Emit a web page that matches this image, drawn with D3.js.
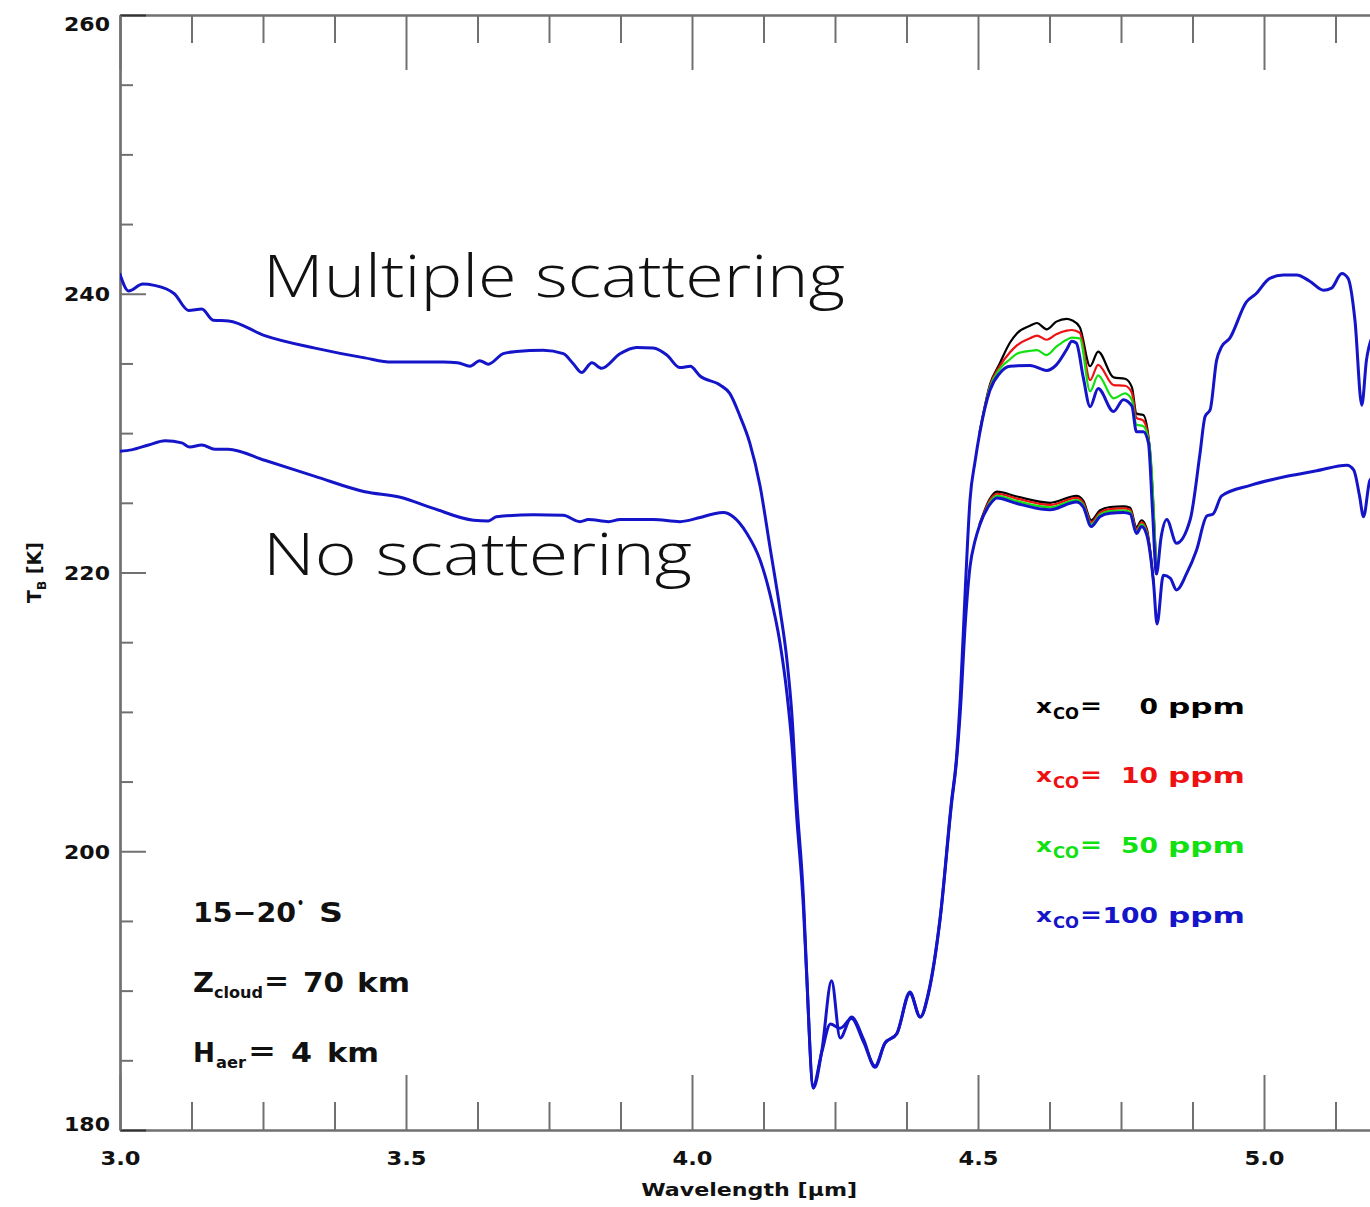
<!DOCTYPE html>
<html>
<head>
<meta charset="utf-8">
<script src="https://cdn.jsdelivr.net/npm/d3@7"></script>
<style>
  html, body { margin: 0; padding: 0; background: #fff; }
  svg { display: block; }
</style>
</head>
<body>
<svg id="chart" width="1370" height="1207"></svg>
<script>
// ---------------- DATA ----------------
// Axis ticks
const xMajorTicks = [3.0, 3.5, 4.0, 4.5, 5.0];
const xMinorTicks = [3.125, 3.25, 3.375, 3.625, 3.75, 3.875, 4.125, 4.25, 4.375, 4.625, 4.75, 4.875, 5.125];
const yMajorTicks = [180, 200, 220, 240, 260];
const yMinorTicks = [185, 190, 195, 205, 210, 215, 225, 230, 235, 245, 250, 255];

// Multiple scattering, x_CO = 100 ppm (full spectrum)
const msWave = [3.000, 3.015, 3.040, 3.060, 3.095, 3.120, 3.143, 3.163, 3.190, 3.253, 3.341, 3.428, 3.475, 3.520,
  3.565, 3.590, 3.612, 3.629, 3.644, 3.670, 3.693, 3.740, 3.775, 3.792, 3.807, 3.825, 3.842, 3.874, 3.903,
  3.932, 3.956, 3.979, 3.997, 4.014, 4.049, 4.066, 4.084, 4.101, 4.119, 4.136, 4.154, 4.166, 4.175, 4.183,
  4.195, 4.200, 4.212, 4.227, 4.244, 4.259, 4.279, 4.300, 4.320, 4.337, 4.358, 4.381, 4.399, 4.413, 4.434,
  4.454, 4.462, 4.469, 4.478, 4.486, 4.495, 4.503, 4.521, 4.538, 4.556, 4.591, 4.620, 4.637, 4.655, 4.664,
  4.672, 4.684, 4.696, 4.710, 4.737, 4.754, 4.769, 4.777, 4.789, 4.798, 4.805, 4.812, 4.820, 4.830, 4.847,
  4.871, 4.888, 4.897, 4.906, 4.917, 4.926, 4.940, 4.969, 4.986, 5.010, 5.034, 5.057, 5.080, 5.104, 5.118,
  5.136, 5.147, 5.159, 5.171, 5.179, 5.190];
const ms100 = [241.4, 240.2, 240.7, 240.6, 240.0, 238.8, 238.9, 238.1, 238.05, 237.0, 236.1, 235.4, 235.1, 235.1,
  235.1, 235.05, 234.8, 235.2, 234.95, 235.7, 235.85, 235.95, 235.7, 235.0, 234.35, 235.05, 234.65, 235.7, 236.15,
  236.1, 235.6, 234.7, 234.8, 234.1, 233.45, 232.85, 231.2, 229.3, 226.2, 221.9, 217.3, 213.7, 209.6, 203.7,
  196.5, 191.7, 183.0, 185.7, 190.7, 186.6, 188.1, 186.5, 184.5, 186.2, 186.9, 189.9, 188.1, 189.8, 195.3,
  203.7, 206.5, 211.0, 219.0, 225.2, 228.0, 230.0, 233.1, 234.3, 234.8, 234.85, 234.5, 234.9, 236.0, 236.6,
  236.45, 234.0, 231.9, 233.2, 231.55, 232.4, 231.95, 230.1, 230.1, 229.3, 224.5, 219.9, 222.5, 223.8, 222.1,
  223.8, 228.5, 231.2, 231.7, 235.2, 236.2, 236.8, 239.4, 240.0, 241.1, 241.35, 241.35, 240.9, 240.25, 240.4,
  241.45, 241.1, 238.1, 232.0, 235.2, 237.0];

// Multiple scattering, lower CO amounts (CO band region only)
const msCoWave = [4.503, 4.521, 4.538, 4.556, 4.568, 4.591, 4.603, 4.620, 4.637, 4.655, 4.664, 4.678, 4.696,
  4.710, 4.737, 4.757, 4.769, 4.777, 4.789, 4.800, 4.812];
const ms0 = [230.1, 233.5, 235.0, 236.5, 237.15, 237.7, 237.9, 237.45, 238.0, 238.2, 238.1, 237.6, 234.8,
  235.85, 234.0, 233.9, 233.3, 231.4, 231.3, 229.0, 219.9];
const ms10 = [230.05, 233.4, 234.8, 235.8, 236.3, 236.8, 237.0, 236.7, 237.1, 237.35, 237.4, 237.2, 233.8,
  234.9, 233.45, 233.4, 232.9, 231.1, 230.9, 229.0, 219.9];
const ms50 = [230.0, 233.3, 234.6, 235.3, 235.7, 235.9, 235.95, 235.6, 236.2, 236.7, 236.85, 236.8, 233.0,
  234.15, 232.5, 232.85, 232.4, 230.6, 230.5, 229.1, 219.9];

// No scattering, x_CO = 100 ppm (full spectrum)
const nsWave = [3.000, 3.020, 3.050, 3.079, 3.108, 3.122, 3.143, 3.166, 3.189, 3.253, 3.341, 3.428, 3.490, 3.548,
  3.618, 3.644, 3.658, 3.723, 3.775, 3.804, 3.819, 3.854, 3.874, 3.932, 3.979, 4.014, 4.037, 4.055, 4.072,
  4.096, 4.119, 4.136, 4.154, 4.166, 4.175, 4.183, 4.195, 4.200, 4.212, 4.227, 4.242, 4.259, 4.279, 4.300,
  4.320, 4.337, 4.358, 4.381, 4.399, 4.413, 4.434, 4.454, 4.462, 4.469, 4.478, 4.486, 4.495, 4.503, 4.521,
  4.533, 4.568, 4.626, 4.672, 4.684, 4.698, 4.713, 4.731, 4.754, 4.766, 4.777, 4.786, 4.795, 4.807, 4.813,
  4.824, 4.836, 4.847, 4.865, 4.882, 4.900, 4.911, 4.926, 4.976, 5.040, 5.092, 5.145, 5.157, 5.167, 5.174,
  5.185, 5.195];
const ns100 = [228.7, 228.8, 229.15, 229.45, 229.3, 229.0, 229.15, 228.85, 228.85, 228.05, 226.9, 225.8, 225.4, 224.6,
  223.75, 223.7, 224.0, 224.15, 224.1, 223.65, 223.8, 223.65, 223.8, 223.8, 223.65, 223.95, 224.2, 224.3, 224.0,
  222.8, 220.9, 218.5, 214.9, 211.3, 207.5, 202.5, 195.8, 191.5, 183.2, 185.6, 187.6, 187.3, 188.0, 186.3,
  184.6, 186.2, 186.9, 189.8, 188.1, 189.7, 195.2, 203.5, 206.3, 210.0, 216.5, 220.4, 222.3, 223.4, 224.9,
  225.35, 224.95, 224.5, 225.05, 224.7, 223.3, 224.0, 224.25, 224.3, 224.2, 222.8, 223.3, 222.7, 219.2, 216.3,
  219.8, 219.6, 218.75, 219.95, 221.6, 224.05, 224.2, 225.5, 226.25, 226.9, 227.3, 227.7, 227.35, 225.5, 224.0,
  226.6, 227.0];

// No scattering, lower CO amounts (CO band region only)
const nsCoWave = [4.503, 4.521, 4.533, 4.568, 4.626, 4.672, 4.684, 4.698, 4.713, 4.731, 4.754, 4.766, 4.777,
  4.786, 4.795, 4.807];
const ns0 = [223.5, 225.3, 225.8, 225.45, 225.0, 225.5, 225.15, 223.75, 224.45, 224.7, 224.75, 224.65, 223.25,
  223.75, 223.15, 219.3];
const ns10 = [223.45, 225.2, 225.65, 225.3, 224.85, 225.35, 225.0, 223.6, 224.3, 224.55, 224.6, 224.5, 223.1,
  223.6, 223.0, 219.25];
const ns50 = [223.4, 225.05, 225.5, 225.12, 224.68, 225.2, 224.85, 223.45, 224.15, 224.4, 224.45, 224.35, 222.95,
  223.45, 222.85, 219.2];

// Legend / annotations
const coLabels = ["0", "10", "50", "100"];
const coColors = ["#000000", "#ee1111", "#11e011", "#1414c8"];

// ---------------- DRAWING ----------------
const svg = d3.select("#chart");
const X0 = 120, X1 = 1378.4, Y0 = 1130, Y1 = 15;
const x = d3.scaleLinear().domain([3.0, 5.2]).range([X0, X1]);
const y = d3.scaleLinear().domain([180, 260]).range([Y0, Y1]);

const axisColor = "#707070";
const labelFont = "'DejaVu Sans', sans-serif";

svg.append("defs").append("clipPath").attr("id", "plotclip")
  .append("rect").attr("x", X0).attr("y", Y1).attr("width", X1 - X0).attr("height", Y0 - Y1);

function styleAxis(g) {
  g.selectAll("path.domain").attr("stroke", axisColor).attr("stroke-width", 2.2);
  g.selectAll(".tick line").attr("stroke", axisColor).attr("stroke-width", 2);
}

// Bottom axis
const gB = svg.append("g").attr("transform", `translate(0,${Y0})`)
  .call(d3.axisBottom(x).tickValues(xMajorTicks).tickSizeInner(-55).tickSizeOuter(0).tickPadding(21)
    .tickFormat(d3.format(".1f")));
styleAxis(gB);
gB.selectAll("text").attr("font-family", labelFont).attr("font-weight", "bold").attr("font-size", 20)
  .attr("fill", "#111").attr("textLength", 40).attr("lengthAdjust", "spacingAndGlyphs");
const gBm = svg.append("g").attr("transform", `translate(0,${Y0})`)
  .call(d3.axisBottom(x).tickValues(xMinorTicks).tickSizeInner(-28).tickSizeOuter(0).tickFormat(""));
styleAxis(gBm);

// Top axis
const gT = svg.append("g").attr("transform", `translate(0,${Y1})`)
  .call(d3.axisTop(x).tickValues(xMajorTicks).tickSizeInner(-55).tickSizeOuter(0).tickFormat(""));
styleAxis(gT);
const gTm = svg.append("g").attr("transform", `translate(0,${Y1})`)
  .call(d3.axisTop(x).tickValues(xMinorTicks).tickSizeInner(-28).tickSizeOuter(0).tickFormat(""));
styleAxis(gTm);

// Left axis
const gL = svg.append("g").attr("transform", `translate(${X0},0)`)
  .call(d3.axisLeft(y).tickValues(yMajorTicks).tickSizeInner(-26).tickSizeOuter(0).tickPadding(10)
    .tickFormat(d3.format("d")));
styleAxis(gL);
gL.selectAll("text").attr("font-family", labelFont).attr("font-weight", "bold").attr("font-size", 20)
  .attr("fill", "#111").attr("textLength", 46).attr("lengthAdjust", "spacingAndGlyphs")
  .attr("dy", d => d === 260 ? "0.75em" : (d === 180 ? "0.0em" : "0.36em"));
gL.selectAll(".tick line").filter(d => d === 260 || d === 180).attr("stroke", "#333");
const gLm = svg.append("g").attr("transform", `translate(${X0},0)`)
  .call(d3.axisLeft(y).tickValues(yMinorTicks).tickSizeInner(-13).tickSizeOuter(0).tickFormat(""));
styleAxis(gLm);

// Axis titles
svg.append("text").attr("x", (X0 + X1) / 2).attr("y", 1196).attr("text-anchor", "middle")
  .attr("font-family", labelFont).attr("font-weight", "bold").attr("font-size", 18).attr("fill", "#111")
  .attr("textLength", 216).attr("lengthAdjust", "spacingAndGlyphs")
  .text("Wavelength [\u03bcm]");
const yt = svg.append("text").attr("transform", `translate(41,${(Y0 + Y1) / 2}) rotate(-90)`)
  .attr("text-anchor", "middle").attr("font-family", labelFont).attr("font-weight", "bold")
  .attr("font-size", 19).attr("fill", "#111");
yt.append("tspan").text("T");
yt.append("tspan").attr("font-size", 12).attr("dy", 5).text("B");
yt.append("tspan").attr("dy", -5).text(" [K]");

// Lines
const line = d3.line().x(d => x(d[0])).y(d => y(d[1])).curve(d3.curveMonotoneX);
const plot = svg.append("g").attr("clip-path", "url(#plotclip)");
const series = [
  { w: msCoWave, t: ms0, c: coColors[0], sw: 2.2 },
  { w: msCoWave, t: ms10, c: coColors[1], sw: 2.2 },
  { w: msCoWave, t: ms50, c: coColors[2], sw: 2.2 },
  { w: nsCoWave, t: ns0, c: coColors[0], sw: 2.2 },
  { w: nsCoWave, t: ns10, c: coColors[1], sw: 2.2 },
  { w: nsCoWave, t: ns50, c: coColors[2], sw: 2.2 },
  { w: nsWave, t: ns100, c: coColors[3], sw: 3 },
  { w: msWave, t: ms100, c: coColors[3], sw: 3 }
];
series.forEach(s => {
  plot.append("path").datum(d3.zip(s.w, s.t)).attr("d", line)
    .attr("fill", "none").attr("stroke", s.c).attr("stroke-width", s.sw)
    .attr("stroke-linejoin", "round").attr("stroke-linecap", "round");
});

// Big annotations
const bigFont = "'Open Sans', 'DejaVu Sans', sans-serif";
svg.append("text").attr("x", 263).attr("y", 297).attr("font-family", bigFont).attr("font-weight", 300)
  .attr("font-size", 58).attr("fill", "#111").attr("textLength", 582).attr("lengthAdjust", "spacingAndGlyphs")
  .text("Multiple  scattering");
svg.append("text").attr("x", 263).attr("y", 575).attr("font-family", bigFont).attr("font-weight", 300)
  .attr("font-size", 58).attr("fill", "#111").attr("textLength", 429).attr("lengthAdjust", "spacingAndGlyphs")
  .text("No  scattering");

// Legend for CO abundance
const legBase = [714, 783, 853, 923];
function seg(g, txt, x0, yb, size, len, anchor) {
  const t = g.append("text").attr("x", x0).attr("y", yb).attr("font-size", size)
    .attr("textLength", len).attr("lengthAdjust", "spacingAndGlyphs").text(txt);
  if (anchor) t.attr("text-anchor", anchor);
  return t;
}
coLabels.forEach((lab, i) => {
  const g = svg.append("g").attr("font-family", labelFont).attr("font-weight", "bold").attr("fill", coColors[i]);
  const b = legBase[i];
  seg(g, "x", 1036, b - 1, 19, 16);
  seg(g, "CO", 1053, b + 5, 15, 26);
  seg(g, "=", 1080, b - 1, 22, 22);
  seg(g, lab, 1158, b, 22, lab.length * 18.5, "end");
  seg(g, "ppm", 1168, b, 22, 77);
});

// Info text (bottom left)
const info = svg.append("g").attr("font-family", labelFont).attr("font-weight", "bold").attr("fill", "#111");
seg(info, "15\u221220", 193, 922, 27, 103);
seg(info, "\u2022", 297, 908, 14, 7);
seg(info, "S", 319, 922, 27, 24);
seg(info, "Z", 193, 992, 27, 21);
seg(info, "cloud", 214, 998, 16, 49);
seg(info, "=", 264, 990, 27, 25);
seg(info, "70", 303, 992, 27, 41);
seg(info, "km", 357, 992, 27, 53);
seg(info, "H", 193, 1062, 27, 22);
seg(info, "aer", 216, 1068, 16, 30);
seg(info, "=", 248, 1060, 27, 28);
seg(info, "4", 291, 1062, 27, 21);
seg(info, "km", 327, 1062, 27, 52);
</script>
</body>
</html>
